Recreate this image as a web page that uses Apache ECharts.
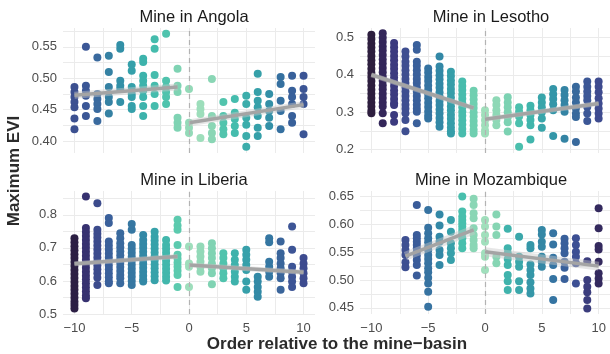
<!DOCTYPE html>
<html>
<head>
<meta charset="utf-8">
<script src="https://cdn.jsdelivr.net/npm/echarts@6/dist/echarts.min.js"></script>
<style>
  html, body { margin: 0; padding: 0; background: #fff; }
  #chart { width: 610px; height: 354px; }
</style>
</head>
<body>
<div id="chart"></div>
<script>
const panelTitles = ['Mine in Angola', 'Mine in Lesotho', 'Mine in Liberia', 'Mine in Mozambique']

// [order relative to mine-basin, [maximum EVI values]]
const angolaPts = [
  [-10, [0.486, 0.478, 0.470, 0.462, 0.454, 0.436, 0.419]],
  [-9, [0.550, 0.488, 0.480, 0.472, 0.456, 0.440]],
  [-8, [0.533, 0.475, 0.467, 0.459, 0.451, 0.432]],
  [-7, [0.536, 0.510, 0.486, 0.470, 0.462, 0.444]],
  [-6, [0.553, 0.547, 0.496, 0.488, 0.483, 0.462]],
  [-5, [0.522, 0.512, 0.486, 0.475, 0.470, 0.456, 0.451]],
  [-4, [0.531, 0.526, 0.504, 0.496, 0.488, 0.480, 0.470, 0.456, 0.440]],
  [-3, [0.562, 0.547, 0.505, 0.488, 0.475, 0.456]],
  [-2, [0.571, 0.496, 0.486, 0.478, 0.470, 0.459]],
  [-1, [0.515, 0.488, 0.478, 0.437, 0.429, 0.421]],
  [0, [0.483, 0.429, 0.421, 0.413]],
  [1, [0.459, 0.451, 0.443, 0.405]],
  [2, [0.499, 0.440, 0.424, 0.413, 0.403]],
  [3, [0.462, 0.440, 0.429, 0.419, 0.411]],
  [4, [0.467, 0.445, 0.435, 0.424, 0.413]],
  [5, [0.472, 0.459, 0.437, 0.426, 0.408, 0.391]],
  [6, [0.507, 0.478, 0.464, 0.454, 0.440, 0.421, 0.408]],
  [7, [0.475, 0.459, 0.448, 0.437, 0.424]],
  [8, [0.502, 0.491, 0.464, 0.448, 0.419]],
  [9, [0.504, 0.480, 0.470, 0.459, 0.440, 0.429]],
  [10, [0.504, 0.483, 0.470, 0.459, 0.411]]
]

const lesothoPts = [
  [-10, [0.507, 0.496, 0.484, 0.473, 0.462, 0.450, 0.439, 0.428, 0.416, 0.405, 0.394, 0.383, 0.371, 0.360, 0.349, 0.338, 0.326, 0.315, 0.304, 0.297]],
  [-9, [0.511, 0.499, 0.488, 0.476, 0.465, 0.453, 0.441, 0.430, 0.418, 0.407, 0.395, 0.384, 0.372, 0.361, 0.349, 0.338, 0.326, 0.315, 0.297, 0.270]],
  [-8, [0.485, 0.474, 0.462, 0.450, 0.439, 0.427, 0.416, 0.404, 0.393, 0.381, 0.370, 0.358, 0.347, 0.335, 0.324, 0.319, 0.292, 0.274]],
  [-7, [0.462, 0.449, 0.435, 0.424, 0.412, 0.401, 0.389, 0.378, 0.366, 0.355, 0.343, 0.332, 0.320, 0.309, 0.297, 0.279, 0.249]],
  [-6, [0.480, 0.467, 0.435, 0.424, 0.412, 0.401, 0.389, 0.378, 0.366, 0.355, 0.343, 0.332, 0.320, 0.309, 0.301, 0.270]],
  [-5, [0.417, 0.406, 0.394, 0.383, 0.371, 0.360, 0.348, 0.337, 0.325, 0.314, 0.302, 0.291, 0.283]],
  [-4, [0.449, 0.422, 0.411, 0.399, 0.388, 0.376, 0.365, 0.353, 0.342, 0.330, 0.319, 0.307, 0.296, 0.284, 0.273, 0.261]],
  [-3, [0.408, 0.397, 0.385, 0.374, 0.362, 0.351, 0.339, 0.328, 0.316, 0.305, 0.293, 0.282, 0.270, 0.259, 0.249, 0.243]],
  [-2, [0.382, 0.370, 0.359, 0.347, 0.336, 0.324, 0.313, 0.301, 0.290, 0.278, 0.267, 0.255, 0.243]],
  [-1, [0.357, 0.345, 0.334, 0.322, 0.311, 0.299, 0.288, 0.276, 0.265, 0.253, 0.243]],
  [0, [0.305, 0.292, 0.278, 0.265, 0.251, 0.243]],
  [1, [0.332, 0.319, 0.305, 0.292, 0.279, 0.265]],
  [2, [0.340, 0.326, 0.313, 0.300, 0.286, 0.273, 0.248]],
  [3, [0.313, 0.301, 0.288, 0.270, 0.207]],
  [4, [0.317, 0.305, 0.292, 0.279, 0.265, 0.227]],
  [5, [0.339, 0.326, 0.313, 0.300, 0.283, 0.258]],
  [6, [0.362, 0.348, 0.335, 0.321, 0.305, 0.236]],
  [7, [0.359, 0.346, 0.332, 0.319, 0.301, 0.229]],
  [8, [0.368, 0.355, 0.339, 0.326, 0.310, 0.296, 0.287, 0.220]],
  [9, [0.382, 0.368, 0.355, 0.343, 0.332, 0.314, 0.296, 0.276]],
  [10, [0.382, 0.368, 0.353, 0.337, 0.323, 0.310, 0.296, 0.283]]
]

const liberiaPts = [
  [-10, [0.729, 0.717, 0.705, 0.693, 0.681, 0.669, 0.657, 0.645, 0.633, 0.621, 0.609, 0.597, 0.585, 0.573, 0.561, 0.549, 0.537, 0.527, 0.517]],
  [-9, [0.855, 0.760, 0.748, 0.736, 0.724, 0.712, 0.700, 0.688, 0.676, 0.664, 0.652, 0.640, 0.628, 0.616, 0.604, 0.592, 0.580, 0.568, 0.556, 0.548]],
  [-8, [0.835, 0.755, 0.743, 0.731, 0.719, 0.707, 0.695, 0.683, 0.671, 0.659, 0.647, 0.635, 0.623, 0.610, 0.588]],
  [-7, [0.790, 0.775, 0.719, 0.707, 0.695, 0.683, 0.671, 0.659, 0.647, 0.635, 0.623, 0.611, 0.599, 0.593]],
  [-6, [0.744, 0.729, 0.714, 0.702, 0.690, 0.678, 0.666, 0.654, 0.642, 0.630, 0.618, 0.608, 0.593]],
  [-5, [0.772, 0.755, 0.709, 0.697, 0.685, 0.673, 0.661, 0.649, 0.637, 0.625, 0.613, 0.600, 0.588]],
  [-4, [0.739, 0.724, 0.712, 0.700, 0.688, 0.676, 0.664, 0.652, 0.640, 0.628, 0.616, 0.604, 0.598]],
  [-3, [0.749, 0.734, 0.722, 0.710, 0.698, 0.686, 0.674, 0.662, 0.650, 0.638, 0.626, 0.614, 0.602]],
  [-2, [0.724, 0.709, 0.697, 0.685, 0.673, 0.661, 0.649, 0.637, 0.625, 0.613, 0.601]],
  [-1, [0.785, 0.768, 0.755, 0.709, 0.679, 0.667, 0.655, 0.643, 0.631, 0.618, 0.582]],
  [0, [0.704, 0.653, 0.643, 0.582]],
  [1, [0.704, 0.689, 0.674, 0.658, 0.643, 0.628]],
  [2, [0.714, 0.699, 0.684, 0.669, 0.653, 0.638, 0.623, 0.590]],
  [3, [0.684, 0.669, 0.653, 0.638, 0.623, 0.608]],
  [4, [0.684, 0.664, 0.648, 0.628, 0.613, 0.598]],
  [5, [0.694, 0.679, 0.664, 0.648, 0.633, 0.598, 0.573]],
  [6, [0.613, 0.598, 0.582, 0.567, 0.552]],
  [7, [0.729, 0.717, 0.658, 0.643, 0.628, 0.613]],
  [8, [0.719, 0.684, 0.669, 0.653, 0.638, 0.623, 0.608, 0.573]],
  [9, [0.765, 0.694, 0.643, 0.628, 0.613, 0.598, 0.582]],
  [10, [0.669, 0.653, 0.638, 0.623, 0.608, 0.593]]
]

const mozambiquePts = [
  [-7, [0.572, 0.563, 0.554, 0.545, 0.532, 0.523]],
  [-6, [0.635, 0.581, 0.575, 0.569, 0.563, 0.557, 0.551, 0.544, 0.536, 0.527, 0.508]],
  [-5, [0.626, 0.594, 0.584, 0.575, 0.568, 0.560, 0.554, 0.545, 0.538, 0.530, 0.521, 0.514, 0.504, 0.494, 0.479, 0.452]],
  [-4, [0.618, 0.598, 0.578, 0.569, 0.554, 0.545, 0.527]],
  [-3, [0.608, 0.587, 0.566, 0.557, 0.548, 0.536]],
  [-2, [0.650, 0.623, 0.614, 0.608, 0.602, 0.596, 0.590, 0.584, 0.575, 0.566, 0.557]],
  [-1, [0.646, 0.635, 0.620, 0.611, 0.593, 0.581, 0.572, 0.563, 0.557]],
  [0, [0.608, 0.596, 0.581, 0.569, 0.548, 0.542, 0.518]],
  [1, [0.618, 0.596, 0.581, 0.542, 0.530]],
  [2, [0.592, 0.557, 0.548, 0.538, 0.527, 0.509, 0.498, 0.482]],
  [3, [0.578, 0.542, 0.533, 0.524, 0.498, 0.482]],
  [4, [0.563, 0.557, 0.528, 0.518, 0.509, 0.496, 0.485, 0.476]],
  [5, [0.590, 0.582, 0.569, 0.560, 0.542, 0.533, 0.524]],
  [6, [0.584, 0.564, 0.540, 0.527, 0.502, 0.464]],
  [7, [0.574, 0.566, 0.557, 0.548, 0.533, 0.522, 0.502]],
  [8, [0.575, 0.563, 0.551, 0.542, 0.530, 0.494]],
  [9, [0.534, 0.500, 0.488, 0.478, 0.464, 0.449]],
  [10, [0.629, 0.593, 0.561, 0.555, 0.533, 0.512, 0.503, 0.494]]
]

// linear fits before / after the mine-basin
const angolaFit = [[[-10, 0.473], [-1, 0.486]], [[0, 0.429], [10, 0.458]]]
const lesothoFit = [[[-10, 0.400], [-1, 0.311]], [[0, 0.281], [10, 0.323]]]
const liberiaFit = [[[-10, 0.652], [-1, 0.674]], [[0, 0.648], [10, 0.626]]]
const mozambiqueFit = [[[-7, 0.543], [-1, 0.590]], [[0, 0.551], [10, 0.525]]]

const xTicks = [-10, -7.5, -5, -2.5, 0, 2.5, 5, 7.5, 10]
const xLabels = [-10, -5, 0, 5, 10]
const angolaTicks = [0.4, 0.425, 0.45, 0.475, 0.5, 0.525, 0.55, 0.575]
const angolaLabels = [0.4, 0.45, 0.5, 0.55]
const lesothoTicks = [0.2, 0.25, 0.3, 0.35, 0.4, 0.45, 0.5]
const lesothoLabels = [0.2, 0.3, 0.4, 0.5]
const liberiaTicks = [0.5, 0.55, 0.6, 0.65, 0.7, 0.75, 0.8, 0.85]
const liberiaLabels = [0.5, 0.6, 0.7, 0.8]
const mozambiqueTicks = [0.45, 0.475, 0.5, 0.525, 0.55, 0.575, 0.6, 0.625, 0.65]
const mozambiqueLabels = [0.45, 0.5, 0.55, 0.6, 0.65]
const yLimits = [[0.381, 0.580], [0.1906, 0.5252], [0.500, 0.872], [0.439, 0.660]]

// colour for each column, index = order + 10
const angolaColors = ['#3c5090', '#3b5796', '#3a6a9e', '#3581a3', '#3290a7', '#35a0aa', '#3db3ac', '#45bcad', '#4fc3ad', '#7fd3b3', '#93dab8',
  '#9ddebb', '#8ad6b5', '#52c4ad', '#45bcad', '#3cadab', '#36a0a9', '#3390a7', '#3570a0', '#38609a', '#3b5595']
const lesothoColors = ['#2d1e3e', '#34275a', '#3c3b7f', '#3e4e90', '#3a609b', '#3573a1', '#3388a6', '#369ea9', '#48bcad', '#6fcfb0', '#a0dfbb',
  '#8ed8b6', '#7cd2b2', '#4bbfad', '#40b5ac', '#38a5aa', '#3496a8', '#3484a4', '#38699c', '#3c5796', '#3e4b8f']
const liberiaColors = ['#2c1f44', '#373270', '#3c4b8c', '#3a609b', '#3a6a9e', '#3677a2', '#3388a6', '#37a2aa', '#42b7ac', '#5ccaae', '#9edebc',
  '#92d9b8', '#80d3b3', '#50c3ad', '#3fb2ac', '#37a0aa', '#338aa6', '#3577a2', '#3a659b', '#3d5596', '#3d4b8f']
const mozambiqueColors = ['#3d4f91', '#3d4f91', '#3d4f91', '#3d4f91', '#3a5c99', '#3773a1', '#3388a6', '#37a0aa', '#48bfad', '#8ad6b5', '#a0dfbc',
  '#86d5b3', '#40b3ac', '#3aa7aa', '#3597a8', '#3487a5', '#3574a2', '#39609b', '#3c4f93', '#3b3d7d', '#342a5e']

const panels = [
  { pts: angolaPts, fit: angolaFit, ticks: angolaTicks, labels: angolaLabels, colors: angolaColors, dec: 2, band: 7 },
  { pts: lesothoPts, fit: lesothoFit, ticks: lesothoTicks, labels: lesothoLabels, colors: lesothoColors, dec: 1, band: 5 },
  { pts: liberiaPts, fit: liberiaFit, ticks: liberiaTicks, labels: liberiaLabels, colors: liberiaColors, dec: 1, band: 5 },
  { pts: mozambiquePts, fit: mozambiqueFit, ticks: mozambiqueTicks, labels: mozambiqueLabels, colors: mozambiqueColors, dec: 2, band: 9 }
]

const FONT = '"Liberation Sans", Arial, sans-serif'
const gridPos = [
  { left: 63, top: 28, width: 252, height: 125 },
  { left: 360, top: 28, width: 252, height: 125 },
  { left: 63, top: 191, width: 252, height: 123 },
  { left: 360, top: 191, width: 252, height: 123 }
]
const gridLine = { show: true, lineStyle: { color: '#ebebeb', width: 1 } }

const xAxes = panels.map((p, i) => ({
  type: 'value', gridIndex: i, min: -11, max: 11,
  axisLine: { show: false },
  axisTick: { show: false, customValues: xTicks },
  splitLine: gridLine,
  axisLabel: {
    show: i >= 2, customValues: xLabels, margin: 8,
    color: '#4d4d4d', fontSize: 13, fontFamily: FONT,
    formatter: v => String(v).replace('-', '\u2212')
  }
}))

const yAxes = panels.map((p, i) => ({
  type: 'value', gridIndex: i, min: yLimits[i][0], max: yLimits[i][1],
  axisLine: { show: false },
  axisTick: { show: false, customValues: p.ticks },
  splitLine: gridLine,
  axisLabel: {
    customValues: p.labels, margin: 6,
    color: '#4d4d4d', fontSize: 13, fontFamily: FONT,
    formatter: v => v.toFixed(p.dec)
  }
}))

const series = []
panels.forEach((p, i) => {
  // dashed line at the mine-basin
  series.push({
    type: 'line', xAxisIndex: i, yAxisIndex: i, data: [], z: 1, silent: true,
    markLine: {
      symbol: 'none', silent: true, label: { show: false },
      lineStyle: { color: '#b3b3b3', type: [5, 4], width: 1.2 },
      data: [{ xAxis: 0 }]
    }
  })
  const data = []
  p.pts.forEach(([x, vals]) => vals.forEach(v => data.push([x, v])))
  series.push({
    type: 'scatter', xAxisIndex: i, yAxisIndex: i, data, z: 2,
    symbolSize: 8,
    itemStyle: { color: params => p.colors[params.data[0] + 10], opacity: 1 }
  })
  p.fit.forEach(seg => {
    series.push({
      type: 'line', xAxisIndex: i, yAxisIndex: i, data: seg, z: 3, silent: true,
      showSymbol: false, lineStyle: { color: 'rgba(200,200,200,0.45)', width: p.band }
    })
    series.push({
      type: 'line', xAxisIndex: i, yAxisIndex: i, data: seg, z: 4, silent: true,
      showSymbol: false, lineStyle: { color: '#a4a4a4', width: 3.5 }
    })
  })
})

const titles = panelTitles.map((t, i) => ({
  text: t, left: gridPos[i].left + 126, top: i < 2 ? 4 : 167, textAlign: 'center',
  textStyle: { fontSize: 16.5, fontWeight: 'normal', color: '#1a1a1a', fontFamily: FONT }
}))

const chart = echarts.init(document.getElementById('chart'))
chart.setOption({
  animation: false,
  backgroundColor: '#fff',
  title: titles,
  grid: gridPos,
  xAxis: xAxes,
  yAxis: yAxes,
  series,
  graphic: [
    {
      type: 'text', x: 14, y: 171, rotation: Math.PI / 2,
      style: { text: 'Maximum EVI', fontSize: 17, fontWeight: 'bold', fill: '#2b2b2b', fontFamily: FONT, align: 'center', verticalAlign: 'middle' }
    },
    {
      type: 'text', x: 337, y: 344,
      style: { text: 'Order relative to the mine\u2212basin', fontSize: 17, fontWeight: 'bold', fill: '#2b2b2b', fontFamily: FONT, align: 'center', verticalAlign: 'middle' }
    }
  ]
})
</script>
</body>
</html>
